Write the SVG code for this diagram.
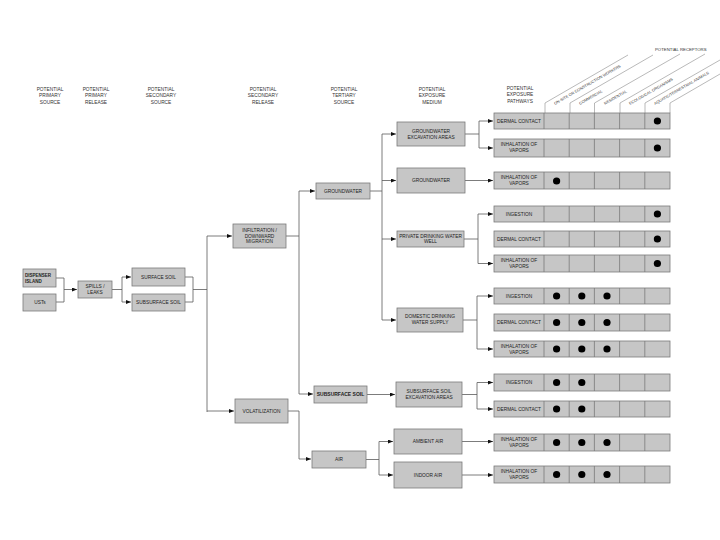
<svg xmlns="http://www.w3.org/2000/svg" width="720" height="540" viewBox="0 0 720 540">
<defs>
<marker id="ah" markerWidth="6" markerHeight="4" refX="5" refY="2" orient="auto" markerUnits="userSpaceOnUse"><path d="M0,0 L5,2 L0,4 z" fill="#111"/></marker>
<style>
.bx{fill:#c6c6c6;stroke:#7a7a7a;stroke-width:0.8}
.t{font-family:"Liberation Sans",Arial,sans-serif;font-size:4.8px;fill:#222;text-anchor:middle}
.h{font-family:"Liberation Sans",Arial,sans-serif;font-size:4.8px;fill:#333;text-anchor:middle}
.r{font-family:"Liberation Sans",Arial,sans-serif;font-size:3.9px;fill:#333}
.c{fill:none;stroke:#5a5a5a;stroke-width:0.8}
.a{fill:none;stroke:#5a5a5a;stroke-width:0.8;marker-end:url(#ah)}
.dv{stroke:#7a7a7a;stroke-width:0.8}
.rl{fill:none;stroke:#8a8a8a;stroke-width:0.6}
.d{fill:#000}
</style>
</defs>
<rect width="720" height="540" fill="#fff"/>

<g id="headers">
<text class="h" x="50" y="91">POTENTIAL<tspan x="50" dy="6.3">PRIMARY</tspan><tspan x="50" dy="6.3">SOURCE</tspan></text>
<text class="h" x="96" y="91">POTENTIAL<tspan x="96" dy="6.3">PRIMARY</tspan><tspan x="96" dy="6.3">RELEASE</tspan></text>
<text class="h" x="161" y="91">POTENTIAL<tspan x="161" dy="6.3">SECONDARY</tspan><tspan x="161" dy="6.3">SOURCE</tspan></text>
<text class="h" x="263" y="91">POTENTIAL<tspan x="263" dy="6.3">SECONDARY</tspan><tspan x="263" dy="6.3">RELEASE</tspan></text>
<text class="h" x="344" y="91">POTENTIAL<tspan x="344" dy="6.3">TERTIARY</tspan><tspan x="344" dy="6.3">SOURCE</tspan></text>
<text class="h" x="432" y="91">POTENTIAL<tspan x="432" dy="6.3">EXPOSURE</tspan><tspan x="432" dy="6.3">MEDIUM</tspan></text>
<text class="h" x="520" y="90">POTENTIAL<tspan x="520" dy="6.3">EXPOSURE</tspan><tspan x="520" dy="6.3">PATHWAYS</tspan></text>
<text class="r" x="655" y="51" style="font-size:4.3px">POTENTIAL RECEPTORS</text>
</g>

<g id="receptor-headers">
<path class="rl" d="M545,113 V103 L628,55"/>
<path class="rl" d="M570,113 V103 L653,55"/>
<path class="rl" d="M594.5,113 V103 L680,54"/>
<path class="rl" d="M620,113 V103 L705,54"/>
<path class="rl" d="M645,113 V103 L720,60"/>
<path class="rl" d="M670,113 V103 L720,74"/>
<text class="r" transform="translate(555,105) rotate(-30)">ON-SITE OR CONSTRUCTION WORKERS</text>
<text class="r" transform="translate(580,105) rotate(-30)">COMMERCIAL</text>
<text class="r" transform="translate(605,105) rotate(-30)">RESIDENTIAL</text>
<text class="r" transform="translate(630,105) rotate(-30)">ECOLOGICAL ORGANISMS</text>
<text class="r" transform="translate(655,105) rotate(-30)">AQUATIC/TERRESTRIAL ANIMALS</text>
</g>

<g id="connectors">
<path class="c" d="M56,278 H64 V302 H56"/>
<path class="a" d="M64,289.5 H77"/>
<path class="c" d="M112,289.5 H122 M122,277 V302"/>
<path class="a" d="M122,277 H131"/>
<path class="a" d="M122,302 H131"/>
<path class="c" d="M185,277 H193 V302 H185 M193,289.5 H207 M207,236 V412"/>
<path class="a" d="M207,236 H232"/>
<path class="a" d="M207,411 H234"/>
<path class="c" d="M286,236 H299 M299,191 V394"/>
<path class="a" d="M299,191 H315"/>
<path class="a" d="M299,394 H313"/>
<path class="c" d="M288,411 H299 V459"/>
<path class="a" d="M299,459 H311"/>
<path class="c" d="M370,191 H382 M382,134 V320"/>
<path class="a" d="M382,134 H396"/>
<path class="a" d="M382,180.5 H396"/>
<path class="a" d="M382,239 H396"/>
<path class="a" d="M382,320 H396"/>
<path class="a" d="M367,394.5 H395"/>
<path class="c" d="M366,459.5 H379 M379,441.5 V475"/>
<path class="a" d="M379,441.5 H393"/>
<path class="a" d="M379,475 H393"/>
<path class="c" d="M465,134 H479 M479,121 V148"/>
<path class="a" d="M479,121 H493"/>
<path class="a" d="M479,148 H493"/>
<path class="a" d="M465,180.5 H493"/>
<path class="c" d="M464,239 H478 M478,214 V263.5"/>
<path class="a" d="M478,214 H493"/>
<path class="a" d="M478,263.5 H493"/>
<path class="c" d="M463,320 H477 M477,296 V349"/>
<path class="a" d="M477,296 H493"/>
<path class="a" d="M477,349 H493"/>
<path class="c" d="M462,394.5 H477 M477,382.5 V409"/>
<path class="a" d="M477,382.5 H493"/>
<path class="a" d="M477,409 H493"/>
<path class="a" d="M462,441.5 H493"/>
<path class="a" d="M462,475 H493"/>
</g>

<g id="dispenser-island"><rect class="bx" x="23" y="269" width="33" height="18"/><text class="t" x="25" y="276.5" style="text-anchor:start;font-weight:bold;font-size:4.5px">DISPENSER<tspan x="25" dy="6">ISLAND</tspan></text></g>
<g id="usts"><rect class="bx" x="23" y="294" width="33" height="17"/><text class="t" x="40" y="304.2">USTs</text></g>
<g id="spills-leaks"><rect class="bx" x="78" y="281" width="34" height="17"/><text class="t" x="95" y="288">SPILLS /<tspan x="95" dy="6">LEAKS</tspan></text></g>
<g id="surface-soil"><rect class="bx" x="132" y="268" width="53" height="18"/><text class="t" x="158.5" y="278.7">SURFACE SOIL</text></g>
<g id="subsurface-soil-2"><rect class="bx" x="132" y="294" width="53" height="17"/><text class="t" x="158.5" y="304.2">SUBSURFACE SOIL</text></g>
<g id="infiltration"><rect class="bx" x="233" y="224" width="53" height="24"/><text class="t" x="259.5" y="232">INFILTRATION /<tspan x="259.5" dy="5.6">DOWNWARD</tspan><tspan x="259.5" dy="5.6">MIGRATION</tspan></text></g>
<g id="volatilization"><rect class="bx" x="235" y="399" width="53" height="24"/><text class="t" x="261.5" y="412.7">VOLATILIZATION</text></g>
<g id="groundwater-3"><rect class="bx" x="316" y="183" width="54" height="16"/><text class="t" x="343" y="192.7">GROUNDWATER</text></g>
<g id="subsurface-soil-3"><rect class="bx" x="314" y="386" width="53" height="17"/><text class="t" x="340.5" y="396.3" style="font-size:5px;font-weight:bold">SUBSURFACE SOIL</text></g>
<g id="air"><rect class="bx" x="312" y="451" width="54" height="17"/><text class="t" x="339" y="461.2">AIR</text></g>
<g id="gw-excavation"><rect class="bx" x="397" y="122" width="68" height="24"/><text class="t" x="431" y="132.5">GROUNDWATER<tspan x="431" dy="6">EXCAVATION AREAS</tspan></text></g>
<g id="groundwater-m"><rect class="bx" x="397" y="168" width="68" height="25"/><text class="t" x="431" y="182.2">GROUNDWATER</text></g>
<g id="private-well"><rect class="bx" x="397" y="231" width="67" height="16"/><text class="t" x="430.5" y="237.5">PRIVATE DRINKING WATER<tspan x="430.5" dy="5.8">WELL</tspan></text></g>
<g id="domestic-supply"><rect class="bx" x="397" y="308" width="66" height="24"/><text class="t" x="430" y="318.3">DOMESTIC DRINKING<tspan x="430" dy="6">WATER SUPPLY</tspan></text></g>
<g id="ss-excavation"><rect class="bx" x="396" y="382" width="66" height="25"/><text class="t" x="429" y="392.8">SUBSURFACE SOIL<tspan x="429" dy="6">EXCAVATION AREAS</tspan></text></g>
<g id="ambient-air"><rect class="bx" x="394" y="429" width="68" height="25"/><text class="t" x="428" y="443.2">AMBIENT AIR</text></g>
<g id="indoor-air"><rect class="bx" x="394" y="462" width="68" height="26"/><text class="t" x="428" y="476.7">INDOOR AIR</text></g>

<g id="pathway-1"><rect class="bx" x="494" y="113" width="176" height="16"/><path class="dv" d="M544,113V129M569.2,113V129M594.4,113V129M619.6,113V129M644.8,113V129"/><text class="t" x="519" y="122.7">DERMAL CONTACT</text><circle class="d" cx="657.4" cy="121" r="3.6"/></g>
<g id="pathway-2"><rect class="bx" x="494" y="139" width="176" height="18"/><path class="dv" d="M544,139V157M569.2,139V157M594.4,139V157M619.6,139V157M644.8,139V157"/><text class="t" x="519" y="146.3">INHALATION OF<tspan x="519" dy="6">VAPORS</tspan></text><circle class="d" cx="657.4" cy="148" r="3.6"/></g>
<g id="pathway-3"><rect class="bx" x="494" y="172" width="176" height="17"/><path class="dv" d="M544,172V189M569.2,172V189M594.4,172V189M619.6,172V189M644.8,172V189"/><text class="t" x="519" y="179">INHALATION OF<tspan x="519" dy="6">VAPORS</tspan></text><circle class="d" cx="556.6" cy="181" r="3.6"/></g>
<g id="pathway-4"><rect class="bx" x="494" y="206" width="176" height="16"/><path class="dv" d="M544,206V222M569.2,206V222M594.4,206V222M619.6,206V222M644.8,206V222"/><text class="t" x="519" y="215.7">INGESTION</text><circle class="d" cx="657.4" cy="214" r="3.6"/></g>
<g id="pathway-5"><rect class="bx" x="494" y="231" width="176" height="16"/><path class="dv" d="M544,231V247M569.2,231V247M594.4,231V247M619.6,231V247M644.8,231V247"/><text class="t" x="519" y="240.7">DERMAL CONTACT</text><circle class="d" cx="657.4" cy="239" r="3.6"/></g>
<g id="pathway-6"><rect class="bx" x="494" y="255" width="176" height="17"/><path class="dv" d="M544,255V272M569.2,255V272M594.4,255V272M619.6,255V272M644.8,255V272"/><text class="t" x="519" y="262">INHALATION OF<tspan x="519" dy="6">VAPORS</tspan></text><circle class="d" cx="657.4" cy="263.5" r="3.6"/></g>
<g id="pathway-7"><rect class="bx" x="494" y="288" width="176" height="16"/><path class="dv" d="M544,288V304M569.2,288V304M594.4,288V304M619.6,288V304M644.8,288V304"/><text class="t" x="519" y="297.7">INGESTION</text><circle class="d" cx="556.6" cy="296" r="3.6"/><circle class="d" cx="581.8" cy="296" r="3.6"/><circle class="d" cx="607" cy="296" r="3.6"/></g>
<g id="pathway-8"><rect class="bx" x="494" y="314" width="176" height="17"/><path class="dv" d="M544,314V331M569.2,314V331M594.4,314V331M619.6,314V331M644.8,314V331"/><text class="t" x="519" y="324.2">DERMAL CONTACT</text><circle class="d" cx="556.6" cy="322.5" r="3.6"/><circle class="d" cx="581.8" cy="322.5" r="3.6"/><circle class="d" cx="607" cy="322.5" r="3.6"/></g>
<g id="pathway-9"><rect class="bx" x="494" y="341" width="176" height="16"/><path class="dv" d="M544,341V357M569.2,341V357M594.4,341V357M619.6,341V357M644.8,341V357"/><text class="t" x="519" y="347.7">INHALATION OF<tspan x="519" dy="6">VAPORS</tspan></text><circle class="d" cx="556.6" cy="349" r="3.6"/><circle class="d" cx="581.8" cy="349" r="3.6"/><circle class="d" cx="607" cy="349" r="3.6"/></g>
<g id="pathway-10"><rect class="bx" x="494" y="374" width="176" height="17"/><path class="dv" d="M544,374V391M569.2,374V391M594.4,374V391M619.6,374V391M644.8,374V391"/><text class="t" x="519" y="384.2">INGESTION</text><circle class="d" cx="556.6" cy="382.5" r="3.6"/><circle class="d" cx="581.8" cy="382.5" r="3.6"/></g>
<g id="pathway-11"><rect class="bx" x="494" y="401" width="176" height="16"/><path class="dv" d="M544,401V417M569.2,401V417M594.4,401V417M619.6,401V417M644.8,401V417"/><text class="t" x="519" y="410.7">DERMAL CONTACT</text><circle class="d" cx="556.6" cy="409" r="3.6"/><circle class="d" cx="581.8" cy="409" r="3.6"/></g>
<g id="pathway-12"><rect class="bx" x="494" y="434" width="176" height="17"/><path class="dv" d="M544,434V451M569.2,434V451M594.4,434V451M619.6,434V451M644.8,434V451"/><text class="t" x="519" y="440.8">INHALATION OF<tspan x="519" dy="6">VAPORS</tspan></text><circle class="d" cx="556.6" cy="442.5" r="3.6"/><circle class="d" cx="581.8" cy="442.5" r="3.6"/><circle class="d" cx="607" cy="442.5" r="3.6"/></g>
<g id="pathway-13"><rect class="bx" x="494" y="466" width="176" height="17"/><path class="dv" d="M544,466V483M569.2,466V483M594.4,466V483M619.6,466V483M644.8,466V483"/><text class="t" x="519" y="472.8">INHALATION OF<tspan x="519" dy="6">VAPORS</tspan></text><circle class="d" cx="556.6" cy="474.5" r="3.6"/><circle class="d" cx="581.8" cy="474.5" r="3.6"/><circle class="d" cx="607" cy="474.5" r="3.6"/></g>
</svg>
